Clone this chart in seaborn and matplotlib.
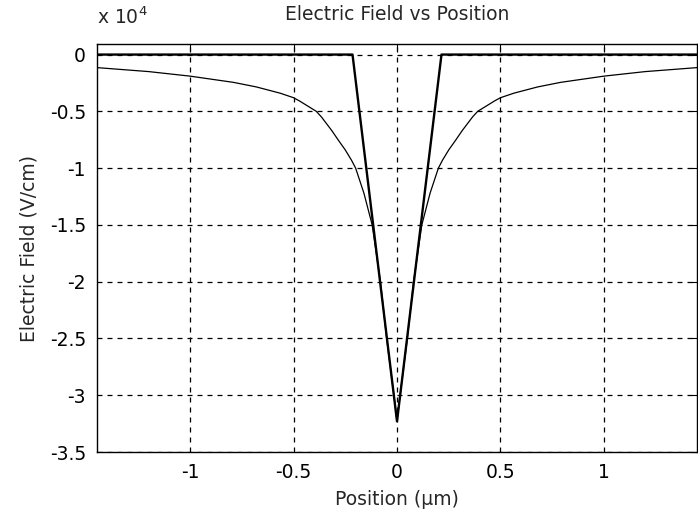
import numpy as np
import matplotlib
matplotlib.use("Agg")
import matplotlib.pyplot as plt
import pandas as pd
import seaborn as sns

# depletion approximation (triangle), position in um, field in V/cm
x_tri = [-1.45, -0.215, 0.0, 0.215, 1.45]
e_tri = [0, 0, -32300, 0, 0]

# full solution (right half, mirrored)
x_half = [0.0, 0.015, 0.05, 0.08, 0.12, 0.16, 0.20, 0.22, 0.25, 0.285, 0.315, 0.34,
          0.365, 0.39, 0.43, 0.47, 0.50, 0.565, 0.68, 0.79, 1.0, 1.2, 1.45]
e_half = [-32300, -30000, -25000, -20000, -15000, -12200, -10000, -9300, -8400,
          -7500, -6700, -6100, -5500, -5000, -4550, -4100, -3800, -3400, -2850,
          -2450, -1900, -1500, -1150]

x_full = [-v for v in x_half[::-1]] + x_half[1:]
e_full = e_half[::-1] + e_half[1:]

df_tri = pd.DataFrame({"x": x_tri, "E": e_tri})
df_full = pd.DataFrame({"x": x_full, "E": e_full})

sns.set_style("white")
plt.rcParams['font.family'] = ['DejaVu Sans']

fig = plt.figure(figsize=(6.98, 5.23), dpi=100)
ax = fig.add_axes([97/698, 1-452/523, 600/698, 408/523])

sns.lineplot(x="x", y="E", data=df_tri, ax=ax, color="black", lw=1.7, sort=False)
sns.lineplot(x="x", y="E", data=df_full, ax=ax, color="black", lw=0.9, sort=False)

ax.set_xlim(-1.45, 1.45)
ax.set_ylim(-35000, 930)
ax.set_xticks([-1, -0.5, 0, 0.5, 1])
ax.set_xticklabels(["-1", "-0.5", "0", "0.5", "1"])
yt = [0, -5000, -10000, -15000, -20000, -25000, -30000, -35000]
ax.set_yticks(yt)
ax.set_yticklabels(["0", "-0.5", "-1", "-1.5", "-2", "-2.5", "-3", "-3.5"])

ax.grid(True, color="black", linestyle=(0, (4, 4)), lw=0.9)
for s in ax.spines.values():
    s.set_color("black")
    s.set_linewidth(1.0)
ax.tick_params(direction="in", length=4, width=0.8, top=True, right=True,
               labelsize=13.5, colors="black", pad=8)

ax.set_xlabel("Position (μm)", fontsize=13.5, labelpad=6)
ax.set_ylabel("Electric Field (V/cm)", fontsize=13.5, labelpad=8)
ax.set_title("Electric Field vs Position", fontsize=13.5, pad=17)
ax.text(0.0, 1.04, r"x 10$^4$", transform=ax.transAxes, fontsize=13.5,
        ha="left", va="bottom")

fig.savefig("out.png", dpi=100)
